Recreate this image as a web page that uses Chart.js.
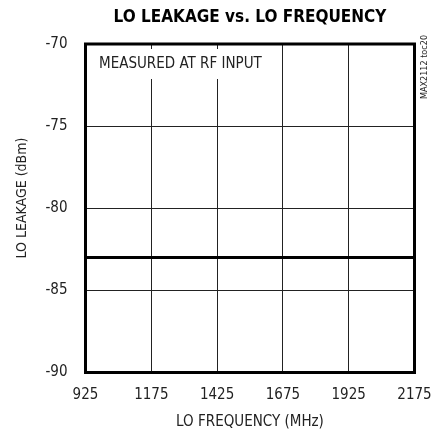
<!DOCTYPE html>
<html>
<head>
<meta charset="utf-8">
<script src="https://cdn.jsdelivr.net/npm/chart.js@4.4.1/dist/chart.umd.min.js"></script>
<style>
html,body{margin:0;padding:0;background:#fff;}
#wrap{width:432px;height:435px;position:relative;}
</style>
</head>
<body>
<div id="wrap"><canvas id="c" width="432" height="435"></canvas></div>
<script>
const FONT = "'Liberation Sans Narrow','Arial Narrow','DejaVu Sans Condensed',sans-serif";
const chartTitle = "LO LEAKAGE vs. LO FREQUENCY";
const xTitle = "LO FREQUENCY (MHz)";
const yTitle = "LO LEAKAGE (dBm)";
const noteText = "MEASURED AT RF INPUT";
const tocText = "MAX2112 toc20";
const xTicks = [925, 1175, 1425, 1675, 1925, 2175];
const yTicks = [-90, -85, -80, -75, -70];
const freqMHz = [925, 1175, 1425, 1675, 1925, 2175];
const leakageDbm = [-83.0, -83.0, -83.0, -83.0, -83.0, -83.0];

const textPlugin = {
  id: 'texts',
  beforeDatasetsDraw(chart) {
    const ctx = chart.ctx, a = chart.chartArea;
    ctx.save();
    ctx.fillStyle = '#fff';
    ctx.fillRect(a.left + 10, a.top + 5, 172, 30);
    ctx.restore();
  },
  afterDraw(chart) {
    const ctx = chart.ctx, a = chart.chartArea;
    ctx.save();
    ctx.strokeStyle = '#000';
    ctx.lineWidth = 3;
    ctx.strokeRect(a.left, a.top, a.right - a.left, a.bottom - a.top);
    ctx.fillStyle = '#000';
    ctx.font = "bold 17px " + FONT;
    ctx.textAlign = 'center';
    ctx.textBaseline = 'middle';
    ctx.fillText(chartTitle, (a.left + a.right) / 2, 18);
    ctx.font = "15px " + FONT;
    ctx.fillStyle = '#222';
    ctx.fillText(xTitle, (a.left + a.right) / 2, 422);
    ctx.save();
    ctx.translate(22, 198);
    ctx.rotate(-Math.PI / 2);
    ctx.font = "14px " + FONT;
    ctx.fillText(yTitle, 0, 0);
    ctx.restore();
    ctx.font = "15px " + FONT;
    ctx.textAlign = 'left';
    ctx.fillText(noteText, 99, 64);
    ctx.font = "9px " + FONT;
    ctx.save();
    ctx.translate(425, 67);
    ctx.rotate(-Math.PI / 2);
    ctx.textAlign = 'center';
    ctx.fillText(tocText, 0, 0);
    ctx.restore();
    ctx.restore();
  }
};

new Chart(document.getElementById('c'), {
  type: 'line',
  data: {
    datasets: [{
      data: freqMHz.map((x, i) => ({x: x, y: leakageDbm[i]})),
      borderColor: '#000',
      borderWidth: 3,
      pointRadius: 0,
      tension: 0,
      fill: false
    }]
  },
  options: {
    responsive: false,
    animation: false,
    devicePixelRatio: 1,
    layout: {padding: {top: 44, right: 17.5, left: 0, bottom: 0}},
    plugins: {legend: {display: false}, tooltip: {enabled: false}, title: {display: false}},
    scales: {
      x: {
        type: 'linear',
        min: 925, max: 2175,
        afterBuildTicks(axis) { axis.ticks = xTicks.map(v => ({value: v})); },
        afterFit(axis) { axis.height = 62.5; axis.paddingRight = 0; axis.paddingLeft = 0; },
        grid: {color: '#222', lineWidth: 1, drawTicks: false},
        border: {display: false},
        ticks: {color: '#222', padding: 14, maxRotation: 0, font: {family: FONT, size: 15},
                callback: v => String(v)}
      },
      y: {
        min: -90, max: -70,
        afterBuildTicks(axis) { axis.ticks = yTicks.map(v => ({value: v})); },
        afterFit(axis) { axis.width = 85.5; axis.paddingTop = 0; axis.paddingBottom = 0; },
        grid: {color: '#222', lineWidth: 1, drawTicks: false},
        border: {display: false},
        ticks: {color: '#222', padding: 18, font: {family: FONT, size: 15},
                callback: v => String(v)}
      }
    }
  },
  plugins: [textPlugin]
});
</script>
</body>
</html>
